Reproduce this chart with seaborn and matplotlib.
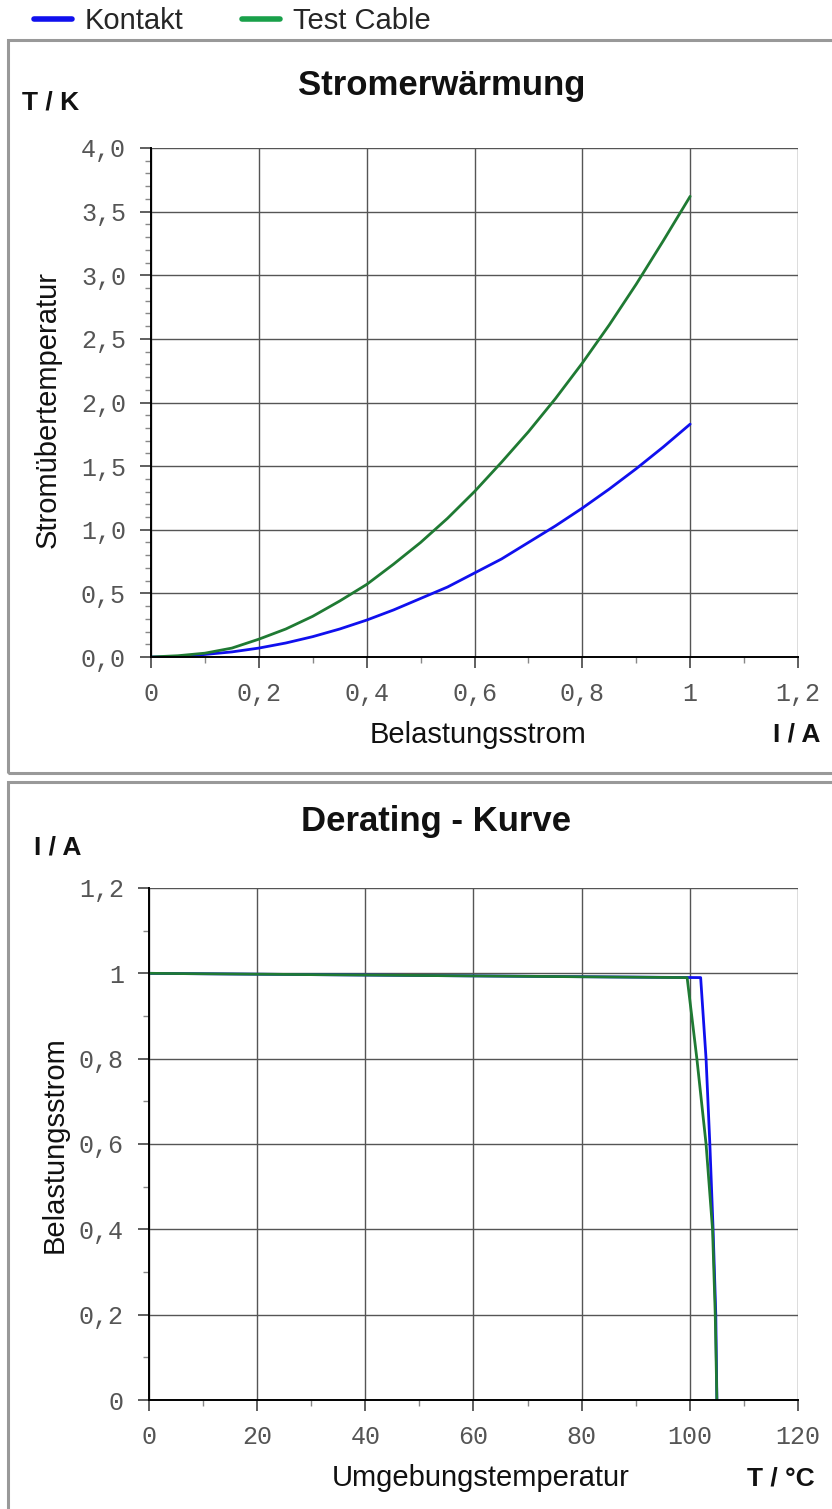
import numpy as np
import pandas as pd
import matplotlib
matplotlib.use("Agg")
import matplotlib.pyplot as plt
import seaborn as sns
from matplotlib.ticker import MultipleLocator, FuncFormatter
from matplotlib.patches import Rectangle
from matplotlib.lines import Line2D

# Stromerwaermung (top chart)
strom = [0.0, 0.05, 0.1, 0.15, 0.2, 0.25, 0.3, 0.35, 0.4, 0.45, 0.5,
         0.55, 0.6, 0.65, 0.7, 0.75, 0.8, 0.85, 0.9, 0.95, 1.0]
dT_kontakt = [0.0, 0.0, 0.02, 0.04, 0.07, 0.11, 0.16, 0.22, 0.29, 0.37, 0.46,
              0.55, 0.66, 0.77, 0.90, 1.03, 1.17, 1.32, 1.48, 1.65, 1.83]
dT_cable = [0.0, 0.01, 0.03, 0.07, 0.14, 0.22, 0.32, 0.44, 0.57, 0.73, 0.90,
            1.09, 1.30, 1.53, 1.77, 2.03, 2.31, 2.61, 2.93, 3.27, 3.62]

# Derating - Kurve (bottom chart)
temp_kontakt = [0, 50, 102.0, 103.0, 103.7, 104.3, 104.8, 105.0]
i_kontakt = [1.0, 0.995, 0.99, 0.8, 0.6, 0.4, 0.2, 0.0]
temp_cable = [0, 50, 99.5, 101.3, 103.0, 104.2, 104.7, 105.0]
i_cable = [1.0, 0.995, 0.99, 0.8, 0.6, 0.4, 0.2, 0.0]

series = ["Kontakt", "Test Cable"]
colors = {"Kontakt": "#1010ee", "Test Cable": "#1f7a33"}

df_top = pd.DataFrame({
    "I": strom + strom,
    "T": dT_kontakt + dT_cable,
    "serie": ["Kontakt"] * len(strom) + ["Test Cable"] * len(strom),
})
df_bot = pd.DataFrame({
    "T": temp_kontakt + temp_cable,
    "I": i_kontakt + i_cable,
    "serie": ["Kontakt"] * len(temp_kontakt) + ["Test Cable"] * len(temp_cable),
})

sns.set_theme(style="white")
plt.rcParams['font.family'] = ['Liberation Sans', 'DejaVu Sans']

W, H = 832, 1509
fig = plt.figure(figsize=(W / 100, H / 100), dpi=100)


def fx(px):
    return px / W


def fy(py):
    return 1 - py / H


def comma(fmt):
    def f(v, pos):
        s = fmt(v)
        return s.replace(".", ",")
    return FuncFormatter(f)


def style_axes(ax):
    for s in ["top", "right"]:
        ax.spines[s].set_visible(False)
    for s in ["left", "bottom"]:
        ax.spines[s].set_color("black")
        ax.spines[s].set_linewidth(1.4)
    ax.grid(True, which="major", color="#555555", linewidth=1.0)
    ax.tick_params(which="major", direction="out", length=8, width=1.2,
                   color="#444444", labelsize=18, labelcolor="#555555", pad=10)
    ax.tick_params(which="minor", direction="out", length=4, width=1.0,
                   color="#888888")
    ax.tick_params(axis="both", which="both", left=True, bottom=True)
    for lab in ax.get_xticklabels() + ax.get_yticklabels():
        lab.set_family("Liberation Mono")
    ax.set_xlabel("")
    ax.set_ylabel("")
    ax.set_axisbelow(True)


# top chart
ax1 = fig.add_axes([fx(151), fy(657), fx(798 - 151), (657 - 148) / H])
sns.lineplot(data=df_top, x="I", y="T", hue="serie", hue_order=series,
             palette=colors, linewidth=2, ax=ax1, legend=False)
ax1.set_xlim(0, 1.2)
ax1.set_ylim(0, 4.0)
ax1.xaxis.set_major_locator(MultipleLocator(0.2))
ax1.xaxis.set_minor_locator(MultipleLocator(0.1))
ax1.yaxis.set_major_locator(MultipleLocator(0.5))
ax1.yaxis.set_minor_locator(MultipleLocator(0.1))
ax1.xaxis.set_major_formatter(comma(lambda v: "%g" % round(v, 2)))
ax1.yaxis.set_major_formatter(comma(lambda v: "%.1f" % v))
style_axes(ax1)

# bottom chart
ax2 = fig.add_axes([fx(149), fy(1400), fx(798 - 149), (1400 - 888) / H])
sns.lineplot(data=df_bot, x="T", y="I", hue="serie", hue_order=series,
             palette=colors, linewidth=2, ax=ax2, legend=False, sort=False,
             estimator=None)
ax2.set_xlim(0, 120)
ax2.set_ylim(0, 1.2)
ax2.xaxis.set_major_locator(MultipleLocator(20))
ax2.xaxis.set_minor_locator(MultipleLocator(10))
ax2.yaxis.set_major_locator(MultipleLocator(0.2))
ax2.yaxis.set_minor_locator(MultipleLocator(0.1))
ax2.xaxis.set_major_formatter(comma(lambda v: "%g" % round(v, 2)))
ax2.yaxis.set_major_formatter(comma(lambda v: "%g" % round(v, 2)))
style_axes(ax2)

# panel frames
for top, bot in [(40, 773), (782, 1530)]:
    fig.patches.append(Rectangle((fx(8), fy(bot)), 1.2, (bot - top) / H,
                                 transform=fig.transFigure, fill=False,
                                 edgecolor="#999999", linewidth=2.2))

# texts
fig.text(fx(442), fy(85), "Stromerwärmung", ha="center", va="center",
         fontsize=25, fontweight="bold", color="#111111")
fig.text(fx(22), fy(103), "T / K", ha="left", va="center",
         fontsize=19, fontweight="bold", color="#111111")
fig.text(fx(48), fy(410), "Stromübertemperatur", ha="center", va="center",
         rotation=90, fontsize=21, color="#111111")
fig.text(fx(478), fy(735), "Belastungsstrom", ha="center", va="center",
         fontsize=21, color="#111111")
fig.text(fx(820), fy(735), "I / A", ha="right", va="center",
         fontsize=19, fontweight="bold", color="#111111")

fig.text(fx(436), fy(822), "Derating - Kurve", ha="center", va="center",
         fontsize=25, fontweight="bold", color="#111111")
fig.text(fx(34), fy(848), "I / A", ha="left", va="center",
         fontsize=19, fontweight="bold", color="#111111")
fig.text(fx(55), fy(1145), "Belastungsstrom", ha="center", va="center",
         rotation=90, fontsize=21, color="#111111")
fig.text(fx(481), fy(1478), "Umgebungstemperatur", ha="center", va="center",
         fontsize=21, color="#111111")
fig.text(fx(815), fy(1478), "T / °C", ha="right", va="center",
         fontsize=19, fontweight="bold", color="#111111")

# legend
handles = [Line2D([], [], color="#1010ee", linewidth=4),
           Line2D([], [], color="#19a04a", linewidth=4)]
fig.legend(handles, series, loc="center left", bbox_to_anchor=(fx(22), fy(21)),
           ncol=2, frameon=False, fontsize=21, handlelength=1.3,
           handletextpad=0.45, columnspacing=2.0, borderaxespad=0)

fig.savefig("out.png", dpi=100, facecolor="white")
